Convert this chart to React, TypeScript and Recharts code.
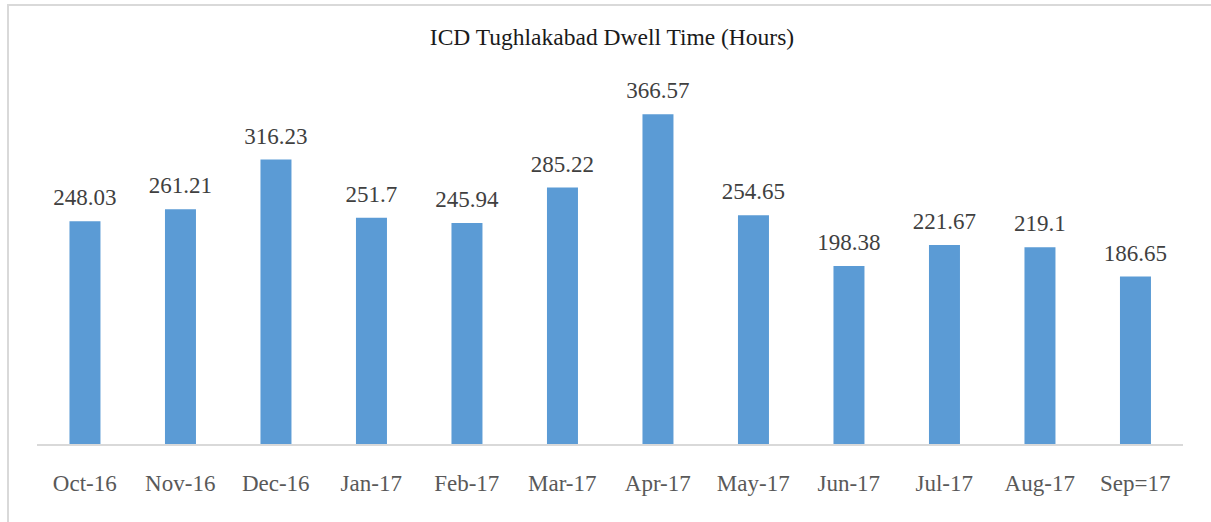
import React from 'react'
import { BarChart, Bar, XAxis, YAxis, LabelList } from 'recharts'

// months on the x axis
const months = [
  'Oct-16', 'Nov-16', 'Dec-16', 'Jan-17', 'Feb-17', 'Mar-17',
  'Apr-17', 'May-17', 'Jun-17', 'Jul-17', 'Aug-17', 'Sep=17',
]

// dwell time in hours
const dwellHours = [
  248.03, 261.21, 316.23, 251.7, 245.94, 285.22,
  366.57, 254.65, 198.38, 221.67, 219.1, 186.65,
]

const data = months.map((month, i) => ({ month, hours: dwellHours[i] }))

const FONT = '"Liberation Serif", "DejaVu Serif", serif'

export default function App() {
  return (
    <div
      style={{
        position: 'fixed',
        left: 0,
        top: 0,
        width: 1211,
        height: 522,
        overflow: 'hidden',
        background: '#fff',
        fontFamily: FONT,
      }}
    >
      {/* outer frame, only top and left edges visible */}
      <div
        style={{
          position: 'absolute',
          left: 7,
          top: 4,
          width: 1240,
          height: 560,
          border: '2px solid #d9d9d9',
        }}
      />
      <div
        style={{
          position: 'absolute',
          left: 0,
          width: 1224,
          top: 24,
          textAlign: 'center',
          fontSize: 23.5,
          color: '#1a1a1a',
        }}
      >
        ICD Tughlakabad Dwell Time (Hours)
      </div>
      <div style={{ position: 'absolute', left: 0, top: 0 }}>
        <BarChart
          width={1211}
          height={522}
          data={data}
          margin={{ top: 84, right: 28, left: 37, bottom: 37 }}
          barCategoryGap="34%"
        >
          <XAxis
            dataKey="month"
            height={40}
            axisLine={{ stroke: '#d9d9d9', strokeWidth: 2 }}
            tickLine={false}
            tickSize={0}
            tickMargin={30}
            interval={0}
            tick={{ fontSize: 23, fill: '#595959', fontFamily: FONT }}
          />
          <YAxis hide domain={[0, 400]} />
          <Bar dataKey="hours" fill="#5b9bd5" isAnimationActive={false}>
            <LabelList
              dataKey="hours"
              position="top"
              offset={16}
              style={{ fontSize: 23, fill: '#404040', fontFamily: FONT }}
            />
          </Bar>
        </BarChart>
      </div>
    </div>
  )
}
